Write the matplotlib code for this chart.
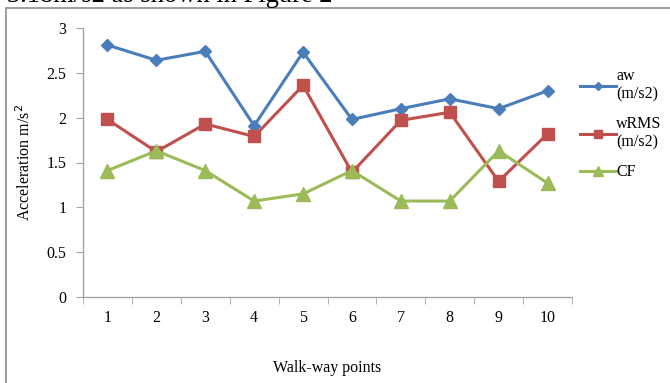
import matplotlib
matplotlib.use("Agg")
import matplotlib.pyplot as plt
from matplotlib.patches import Rectangle

plt.rcParams['font.family'] = ['Liberation Serif', 'DejaVu Serif']

points = [1, 2, 3, 4, 5, 6, 7, 8, 9, 10]
aw = [2.81, 2.64, 2.74, 1.91, 2.73, 1.98, 2.10, 2.21, 2.10, 2.30]
wrms = [1.98, 1.62, 1.93, 1.79, 2.36, 1.39, 1.97, 2.06, 1.29, 1.82]
cf = [1.41, 1.63, 1.41, 1.07, 1.15, 1.41, 1.07, 1.07, 1.63, 1.27]
series_labels = ["aw\n(m/s2)", "wRMS\n(m/s2)", "CF"]
y_ticks = [0, 0.5, 1, 1.5, 2, 2.5, 3]

W, H = 670, 383
fig = plt.figure(figsize=(W / 100, H / 100), dpi=100)

# caption line of the surrounding document, cut by the top edge
cap = fig.text(7 / W, 1 - 2.5 / H, "3.18m/s2 as shown in Figure 2", fontsize=17,
               ha='left', va='baseline', color='black')
fig.canvas.draw()
bb = cap.get_window_extent()
cap.set_fontsize(17 * 326 / bb.width)

# chart frame
fig.patches.append(Rectangle((6 / W, -0.1), 1.2, 1.1 - 8 / H, transform=fig.transFigure,
                             fill=False, edgecolor='#8c8c8c', linewidth=1.2))

ax = fig.add_axes([83 / W, 1 - 297 / H, (572 - 83) / W, (297 - 28) / H])

blue, red, green = '#4a7ebb', '#c0504d', '#9bbb59'
l1, = ax.plot(points, aw, color=blue, lw=2.2, marker='D', ms=6.5, label=series_labels[0], zorder=3)
l2, = ax.plot(points, wrms, color=red, lw=2.2, marker='s', ms=9, label=series_labels[1], zorder=3)
l3, = ax.plot(points, cf, color=green, lw=2.2, marker='^', ms=10, label=series_labels[2], zorder=4)

ax.set_xlim(0.5, 10.5)
ax.set_ylim(0, 3)
ax.set_yticks(y_ticks)
ax.set_yticklabels([f"{t:g}" for t in y_ticks])
ax.set_xticks(points)
ax.set_xticklabels([str(p) for p in points])
ax.set_xticks([p + 0.5 for p in range(0, 11)], minor=True)

for s in ['top', 'right']:
    ax.spines[s].set_visible(False)
for s in ['left', 'bottom']:
    ax.spines[s].set_color('#a6a6a6')
    ax.spines[s].set_linewidth(1.0)

ax.tick_params(axis='y', direction='out', length=5, color='#a6a6a6', labelsize=11.5, pad=7)
ax.tick_params(axis='x', which='major', length=0, labelsize=11.5, pad=9)
ax.tick_params(axis='x', which='minor', direction='out', length=5, color='#a6a6a6')

ax.set_ylabel("Acceleration m/s$^2$", fontsize=11.5, labelpad=9)
ax.set_xlabel("Walk-way points", fontsize=11.5, labelpad=25)

leg = fig.legend(handles=[l1, l2, l3], loc='upper left',
                 bbox_to_anchor=(574 / W, 1 - 62 / H), frameon=False,
                 fontsize=11.5, handlelength=2.2, handletextpad=0.05,
                 markerscale=0.65, labelspacing=0.85, borderaxespad=0)

fig.savefig("out.png", dpi=100)
